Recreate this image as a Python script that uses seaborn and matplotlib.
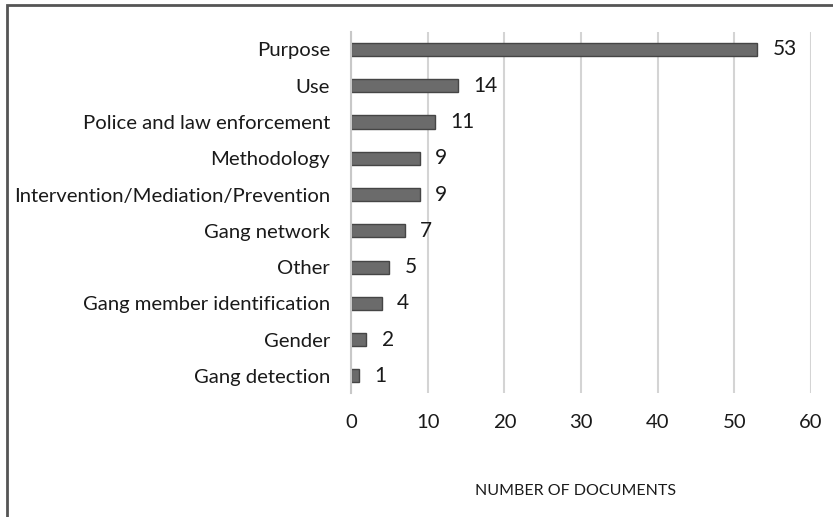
import matplotlib
matplotlib.use("Agg")
import matplotlib.pyplot as plt
import seaborn as sns
import pandas as pd
from matplotlib.patches import Rectangle

categories = ["Purpose", "Use", "Police and law enforcement", "Methodology",
              "Intervention/Mediation/Prevention", "Gang network", "Other",
              "Gang member identification", "Gender", "Gang detection"]
values = [53, 14, 11, 9, 9, 7, 5, 4, 2, 1]
x_ticks = [0, 10, 20, 30, 40, 50, 60]
x_label = "NUMBER OF DOCUMENTS"

sns.set_theme(style="white")
plt.rcParams['font.family'] = ['Lato', 'DejaVu Sans']

df = pd.DataFrame({"category": categories, "value": values})

fig = plt.figure(figsize=(8.33, 5.17), dpi=100)
ax = fig.add_axes([351/833, 1-393/517, 460/833, 361/517])

sns.barplot(data=df, y="category", x="value", orient="h", ax=ax,
            color="#6b6b6b", edgecolor="#454545", linewidth=1.0,
            width=0.36, saturation=1)

ax.set_xlim(0, 60)
ax.set_ylim(9.47, -0.48)
ax.set_xticks(x_ticks)
ax.set_xticklabels([str(t) for t in x_ticks])
ax.xaxis.grid(True, color="#d4d4d4", linewidth=1.5)
ax.set_axisbelow(True)
for s in ["top", "right", "bottom"]:
    ax.spines[s].set_visible(False)
ax.spines["left"].set_color("#c8c8c8")
ax.spines["left"].set_linewidth(1.5)

ax.tick_params(axis="y", length=0, pad=15, labelsize=14.6, labelcolor="#1a1a1a")
ax.tick_params(axis="x", length=0, pad=15, labelsize=14.6, labelcolor="#1a1a1a")
ax.set_ylabel("")
ax.set_xlabel(x_label, fontsize=11.5, color="#1a1a1a")
ax.xaxis.set_label_coords(0.488, (393-491)/361)
ax.xaxis.label.set_va("center")

ax.bar_label(ax.containers[0], labels=[str(v) for v in values],
             padding=11, fontsize=15, color="#1a1a1a")

fig.patches.append(Rectangle((6.5/833, -0.1), 1.2, 1.1 - 4.5/517,
                             transform=fig.transFigure, fill=False,
                             edgecolor="#555555", linewidth=2))

fig.savefig("out.png", dpi=100)
